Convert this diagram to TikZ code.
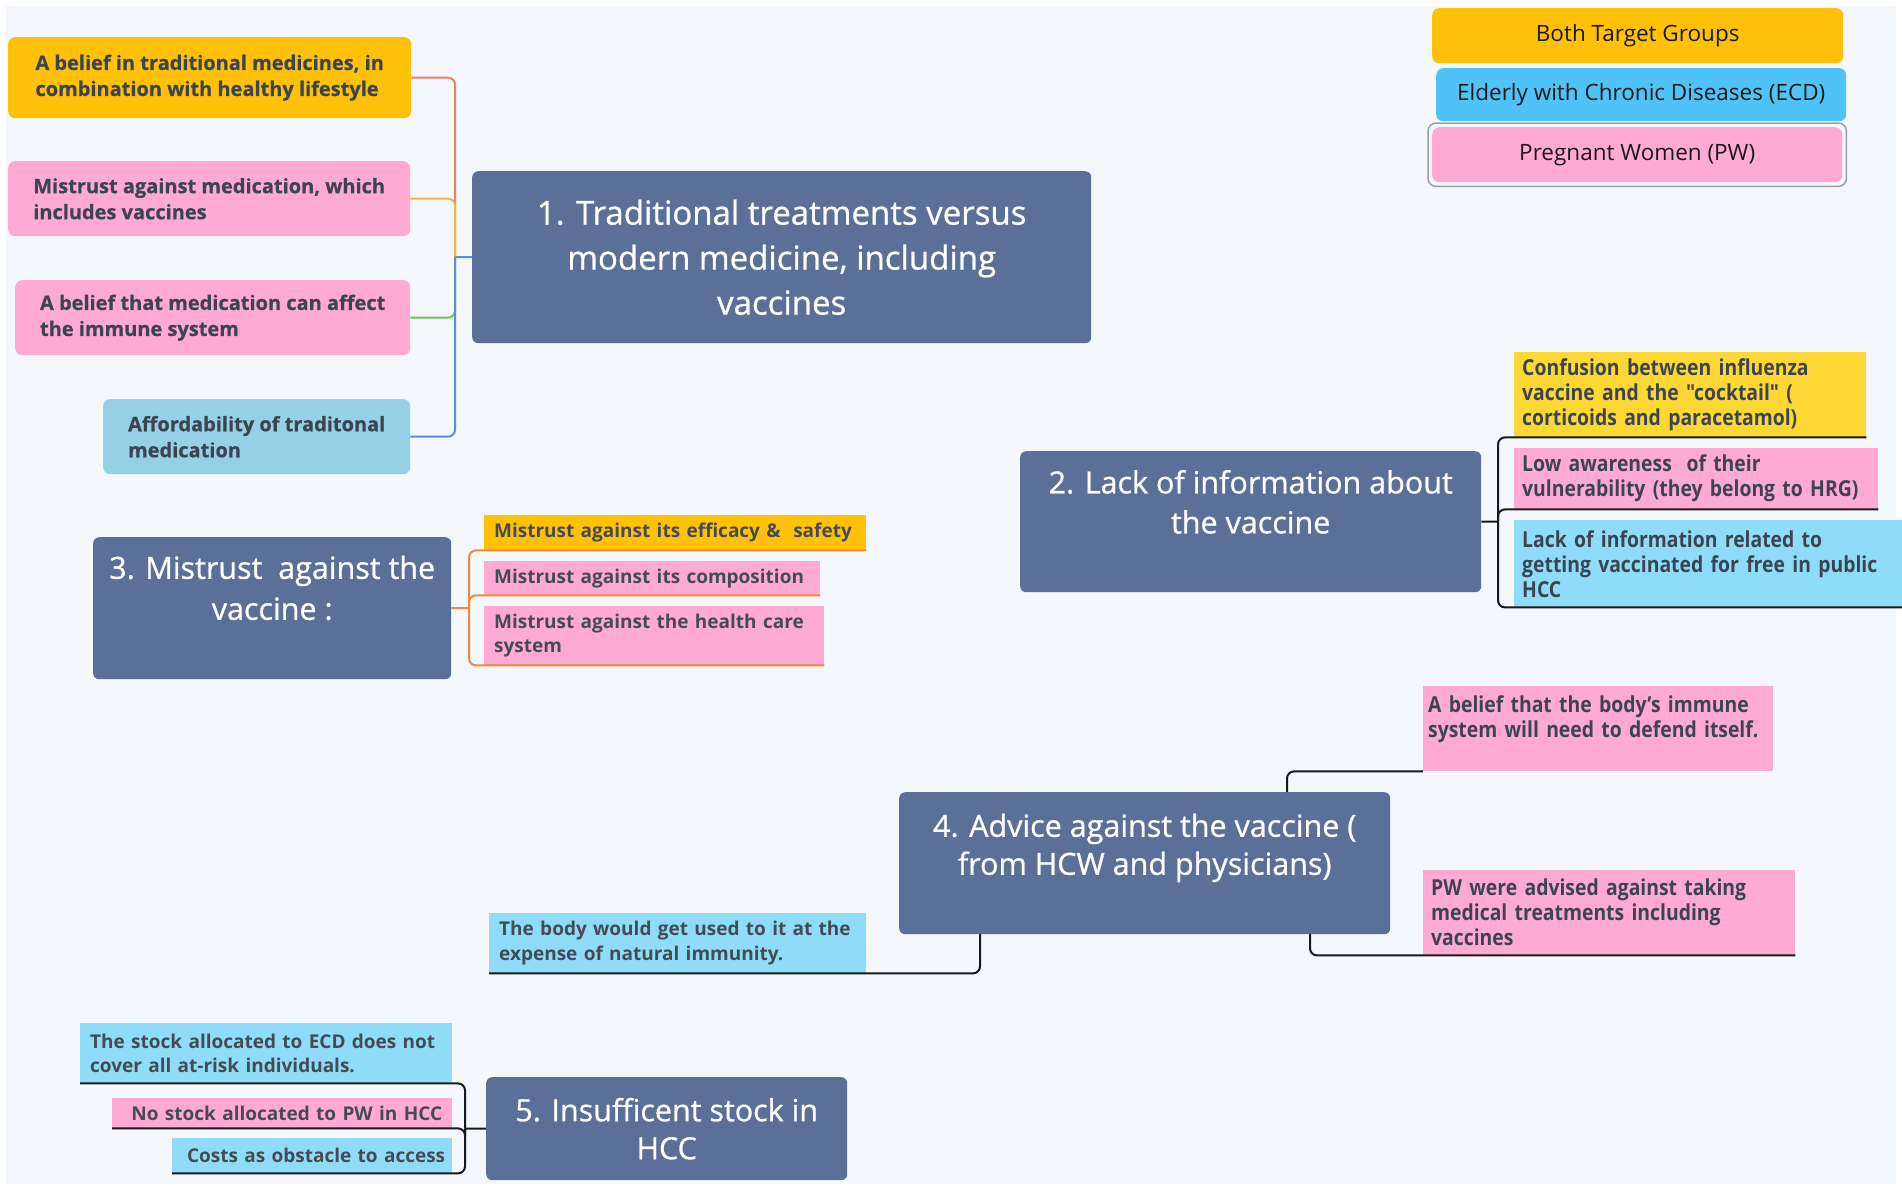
\documentclass[tikz,border=0pt]{standalone}
\usepackage{fontspec}
\setmainfont{Open Sans}
\newfontfamily\narrowfam[FakeStretch=0.88]{Open Sans}
\newfontfamily\topicfam[FakeBold=0.8]{Open Sans}
\newfontfamily\heavyfam[FakeBold=0.6]{Open Sans}
\usetikzlibrary{calc}
\hyphenpenalty=10000
\exhyphenpenalty=10000

\definecolor{slate}{HTML}{5A7099}
\definecolor{amberY}{HTML}{FFC107}
\definecolor{lemonY}{HTML}{FDD835}
\definecolor{pinkP}{HTML}{FFA9D5}
\definecolor{skyB}{HTML}{8EDCF7}
\definecolor{paleB}{HTML}{96D0E6}
\definecolor{legB}{HTML}{4FC3F7}
\definecolor{inkT}{HTML}{3B4552}
\definecolor{inkS}{HTML}{454B55}
\definecolor{bgC}{HTML}{F4F8FC}
\definecolor{lnRed}{HTML}{F27B6B}
\definecolor{lnAmb}{HTML}{F6B53A}
\definecolor{lnGrn}{HTML}{6DC24F}
\definecolor{lnBlu}{HTML}{5B8ED6}
\definecolor{lnOra}{HTML}{F0893C}

\tikzset{
  topic/.style={anchor=north west, fill=slate, rounded corners=6pt, text=white, align=center, inner sep=0pt},
  legbox/.style={anchor=north west, rounded corners=7pt, inner sep=0pt, text=black!90, font=\fontsize{22.5}{27}\selectfont},
  roundleaf/.style={anchor=north west, rounded corners=7pt, inner sep=0pt, align=left, text=inkT, font=\heavyfam\bfseries\fontsize{20}{26}\selectfont},
  narrowleaf/.style={anchor=north west, inner xsep=8pt, inner ysep=0pt, align=left, text=inkT, font=\narrowfam\bfseries\fontsize{22}{25}\selectfont},
  plainleaf/.style={anchor=north west, inner xsep=10pt, inner ysep=0pt, align=left, text=inkS, font=\bfseries\fontsize{19}{24.5}\selectfont},
  branch/.style={line width=2pt, rounded corners=7pt},
  blackline/.style={branch, draw=black!90}
}

\begin{document}
\begin{tikzpicture}[x=1pt, y=-1pt]
    % Background
    \fill[white] (0,0) rectangle (1902,1189);
    \fill[bgC] (6,6) rectangle (1896,1184);
    \useasboundingbox (0,0) rectangle (1902,1189);
    % Definitions
    \coordinate (j1)  at (455,257);
    \coordinate (j2)  at (1498,521.5);
    \coordinate (j3)  at (469,608);
    \coordinate (j4a) at (1287,792);
    \coordinate (j4b) at (1310,934);
    \coordinate (j4c) at (980,934);
    \coordinate (j5)  at (465,1128.5);
    % Legend
    \node[legbox, fill=amberY, minimum width=411pt, minimum height=55pt] (lgBoth) at (1432,8) {Both Target Groups};
    \node[legbox, fill=legB, minimum width=410pt, minimum height=53pt] (lgECD) at (1436,68) {Elderly with Chronic Diseases (ECD)};
    \node[legbox, fill=pinkP, minimum width=410pt, minimum height=55pt] (lgPW) at (1432,127) {Pregnant Women (PW)};
    \draw[gray!75, line width=1.5pt, rounded corners=8pt] ([shift={(-4pt,4pt)}]lgPW.north west) rectangle ([shift={(4pt,-4pt)}]lgPW.south east);
    % Topics
    \node[topic, minimum width=619pt, minimum height=172pt, font=\topicfam\fontsize{33}{45}\selectfont] (n1) at (472,171) {1. Traditional treatments versus\\ modern medicine, including\\ vaccines};
    \node[topic, minimum width=461pt, minimum height=141pt, font=\topicfam\fontsize{30.5}{40}\selectfont] (n2) at (1020,451) {2. Lack of information about\\ the vaccine\\ \mbox{}};
    \node[topic, minimum width=358pt, minimum height=142pt, font=\topicfam\fontsize{30.5}{41}\selectfont] (n3) at (93,537) {3. Mistrust\ \ against the\\ vaccine :\\ \mbox{}};
    \node[topic, minimum width=491pt, minimum height=142pt, font=\topicfam\fontsize{30.5}{38}\selectfont] (n4) at (899,792) {4. Advice against the vaccine (\\ from HCW and physicians)\\ \mbox{}};
    \node[topic, minimum width=361pt, minimum height=103pt, font=\topicfam\fontsize{30.5}{38}\selectfont] (n5) at (486,1077) {5. Insufficent stock in\\ HCC};
    % Leaves of topic 1
    \node[roundleaf, fill=amberY, minimum width=403pt, minimum height=81pt] (a1) at (8,37) {A belief in traditional medicines, in\\ combination with healthy lifestyle};
    \node[roundleaf, fill=pinkP, minimum width=402pt, minimum height=75pt] (a2) at (8,161) {Mistrust against medication, which\\ includes vaccines};
    \node[roundleaf, fill=pinkP, minimum width=395pt, minimum height=75pt] (a3) at (15,280) {A belief that medication can affect\\ the immune system};
    \node[roundleaf, fill=paleB, minimum width=307pt, minimum height=75pt] (a4) at (103,399) {Affordability of traditonal\\ medication};
    % Leaves of topic 2
    \node[narrowleaf, fill=lemonY, text width=336pt, minimum height=85pt] (b1) at (1514,352) {Confusion between influenza\\ vaccine and the "cocktail" (\\ corticoids and paracetamol)};
    \node[narrowleaf, fill=pinkP, text width=348pt, minimum height=61pt] (b2) at (1514,448) {Low awareness\ \ of their\\ vulnerability (they belong to HRG)};
    \node[narrowleaf, fill=skyB, text width=372pt, minimum height=87pt] (b3) at (1514,520) {Lack of information related to\\ getting vaccinated for free in public\\ HCC};
    % Leaves of topic 3
    \node[plainleaf, fill=amberY, text width=362pt, minimum height=35pt] (c1) at (484,515) {Mistrust against its efficacy \&\ \ safety};
    \node[plainleaf, fill=pinkP, text width=316pt, minimum height=34pt] (c2) at (484,561) {Mistrust against its composition};
    \node[plainleaf, fill=pinkP, text width=320pt, minimum height=59pt] (c3) at (484,606) {Mistrust against the health care\\ system};
    % Leaves of topic 4
    \node[narrowleaf, inner xsep=5pt, fill=pinkP, text width=340pt, minimum height=85pt] (d1) at (1423,686) {A belief that the body’s immune\\ system will need to defend itself.\\ \mbox{}};
    \node[narrowleaf, fill=pinkP, text width=356pt, minimum height=85pt] (d2) at (1423,870) {PW were advised against taking\\ medical treatments including\\ vaccines};
    \node[plainleaf, fill=skyB, text width=357pt, minimum height=60pt] (d3) at (489,913) {The body would get used to it at the\\ expense of natural immunity.};
    % Leaves of topic 5
    \node[plainleaf, fill=skyB, text width=352pt, minimum height=60pt] (e1) at (80,1023) {The stock allocated to ECD does not\\ cover all at-risk individuals.};
    \node[plainleaf, fill=pinkP, align=right, text width=320pt, minimum height=30pt] (e2) at (112,1098) {No stock allocated to PW in HCC};
    \node[plainleaf, fill=skyB, align=right, inner xsep=7pt, text width=266pt, minimum height=35pt] (e3) at (172,1138) {Costs as obstacle to access};
    % Branches of topic 1
    \draw[branch, lnRed] (j1) |- (a1.east);
    \draw[branch, lnAmb] (j1) |- (a2.east);
    \draw[branch, lnGrn] (j1) |- (a3.east);
    \draw[branch, lnBlu] (j1) |- (a4.east);
    \draw[branch, lnBlu] (n1.west) -- (j1);
    % Branches of topic 2
    \draw[blackline] (n2.east) -- (j2);
    \draw[blackline] (j2) |- (b1.south east);
    \draw[blackline] (j2) |- (b2.south east);
    \draw[blackline] (j2) |- (b3.south east);
    % Branches of topic 3
    \draw[branch, lnOra] (n3.east) -- (j3);
    \draw[branch, lnOra] (j3) |- (c1.south east);
    \draw[branch, lnOra] (j3) |- (c2.south east);
    \draw[branch, lnOra] (j3) |- (c3.south east);
    % Branches of topic 4
    \draw[blackline] (j4a) |- (d1.south west);
    \draw[blackline] (j4b) |- (d2.south east);
    \draw[blackline] (j4c) |- (d3.south west);
    % Branches of topic 5
    \draw[blackline] (n5.west) -- (j5);
    \draw[blackline] (j5) |- (e1.south west);
    \draw[blackline] (j5) |- (e2.south west);
    \draw[blackline] (j5) |- (e3.south west);
\end{tikzpicture}
\end{document}
